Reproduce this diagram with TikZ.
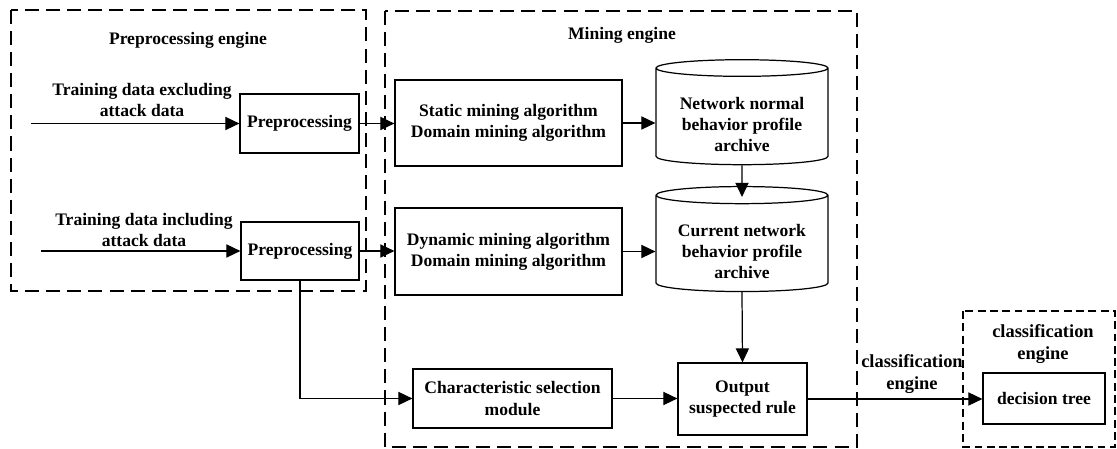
\documentclass[tikz,border=0pt]{standalone}
\usepackage{fontspec}
\setmainfont{Liberation Serif}
\usetikzlibrary{arrows.meta, shapes.geometric}

\begin{document}
\begin{tikzpicture}[x=0.02cm, y=-0.02cm, font=\bfseries,
    box/.style={draw, align=center, inner sep=1pt, line width=0.7pt},
    drum/.style={draw, cylinder, shape border rotate=90, aspect=0.13, align=center,
        line width=0.7pt, minimum width=3.44cm, minimum height=2.1cm, inner sep=1pt},
    engine/.style={draw, dash pattern=on 8pt off 4pt, line width=0.9pt},
    arr/.style={-{Triangle[length=8pt,width=7.5pt]}, line width=0.7pt},
    biglabel/.style={align=center, font=\fontsize{10.5}{12.5}\selectfont\bfseries}]
    \useasboundingbox (0,0) rectangle (1117,449);
    % engine frames
    \draw[engine] (11,10) rectangle (366,291);
    \draw[engine] (385,11) rectangle (857,447);
    \draw[engine, dash pattern=on 4.5pt off 2.5pt, line width=0.6pt] (963,311) rectangle (1115,447);
    \node (prename) at (188,40) {Preprocessing engine};
    \node (minename) at (622,35) {Mining engine};
    \node[biglabel] (classname) at (1043,344) {classification\\engine};
    % preprocessing engine
    \coordinate (in1) at (31,123.5);
    \coordinate (in2) at (41,251);
    \node[align=center] (intxt1) at (142,100) {Training data excluding\\attack data};
    \node[align=center] (intxt2) at (144,230) {Training data including\\attack data};
    \node[box, minimum width=2.38cm, minimum height=1.18cm] (pre1) at (299.5,123.5) {Preprocessing};
    \node[box, minimum width=2.36cm, minimum height=1.16cm] (pre2) at (300,251) {Preprocessing};
    % mining engine
    \node[box, minimum width=4.54cm, minimum height=1.72cm] (static) at (508.5,123) {Static mining algorithm\\Domain mining algorithm};
    \node[box, minimum width=4.54cm, minimum height=1.74cm] (dynamic) at (508.5,251.5) {Dynamic mining algorithm\\Domain mining algorithm};
    % the strut pushes the text below the top lid
    \node[drum] (normal) at (742,117.5) {\rule{0pt}{15pt}Network normal\\behavior profile\\archive};
    \node[drum] (current) at (742,244.5) {\rule{0pt}{15pt}Current network\\behavior profile\\archive};
    \node[box, minimum width=3.98cm, minimum height=1.18cm] (charsel) at (512.5,398.5) {Characteristic selection\\module};
    \node[box, minimum width=2.58cm, minimum height=1.44cm] (output) at (742.5,399) {Output\\suspected rule};
    % classification engine
    \node[biglabel] (classlink) at (912,374) {classification\\engine};
    \node[box, minimum width=2.44cm, minimum height=1.02cm] (dtree) at (1044,398.5) {decision tree};
    % connectors
    \draw[arr] (in1) -- (pre1);
    \draw[arr] (in2) -- (pre2);
    \draw[arr] (pre1.east) -- (pre1.east -| static.west);
    \draw[arr] (pre2.east) -- (pre2.east -| dynamic.west);
    \draw[arr] (static.east) -- (static.east -| normal.west);
    \draw[arr] (dynamic.east) -- (dynamic.east -| current.west);
    \draw[arr] (normal.south) -- ([yshift=-0.22cm]current.north);
    \draw[arr] (current.south) -- (output.north);
    \draw[arr] (pre2.south) |- (charsel.west);
    \draw[arr] (charsel.east) -- (charsel.east -| output.west);
    \draw[arr] (output.east) -- (output.east -| dtree.west);
\end{tikzpicture}
\end{document}
